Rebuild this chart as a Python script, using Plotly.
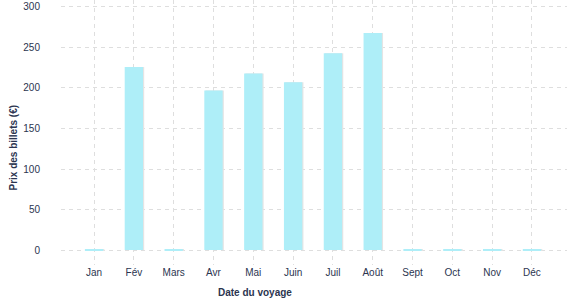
import plotly.graph_objects as go

months = ["Jan", "Fév", "Mars", "Avr", "Mai", "Juin", "Juil", "Août", "Sept", "Oct", "Nov", "Déc"]
prices = [1, 226, 1, 197, 218, 207, 243, 268, 1, 1, 1, 1]
y_ticks = [0, 50, 100, 150, 200, 250, 300]

TXT = "#2b3550"
FONT = "Liberation Sans, Arial, sans-serif"
idx = list(range(len(months)))

fig = go.Figure()
# shadow
fig.add_trace(go.Bar(x=idx, y=prices, width=0.46, offset=-0.2, marker=dict(color="#e4e4e4", line=dict(width=0)),
                     hoverinfo="skip", showlegend=False))
fig.add_trace(go.Bar(x=idx, y=prices, width=0.46, offset=-0.23, marker=dict(color="#aeeef8", line=dict(width=0)),
                     showlegend=False))

fig.update_layout(
    width=577, height=300, barmode="overlay",
    margin=dict(l=61, r=10, t=0, b=35),
    plot_bgcolor="white", paper_bgcolor="white",
    font=dict(family=FONT, size=10, color=TXT),
    xaxis=dict(range=[-0.83, 11.88], tickmode="array", tickvals=idx, ticktext=months,
               showgrid=True, gridcolor="#dedede", griddash="4px,4px", gridwidth=1,
               zeroline=False, showline=False, ticks="", tickfont=dict(size=10, color=TXT)),
    yaxis=dict(range=[-18.5, 308.6], tickmode="array", tickvals=y_ticks,
               showgrid=True, gridcolor="#dedede", griddash="4px,4px", gridwidth=1,
               zeroline=False, showline=False, ticks="", ticklabelstandoff=20,
               tickfont=dict(size=10, color=TXT)),
    annotations=[
        dict(text="<b>Date du voyage</b>", xref="paper", yref="paper", x=0.383, y=-0.105,
             xanchor="center", yanchor="middle", showarrow=False, font=dict(size=10, color=TXT)),
        dict(text="<b>Prix des billets (€)</b>", xref="paper", yref="paper", x=-0.094, y=0.445,
             xanchor="center", yanchor="middle", showarrow=False, textangle=-90,
             font=dict(size=10, color=TXT)),
    ],
)

fig.write_html("out.html")
